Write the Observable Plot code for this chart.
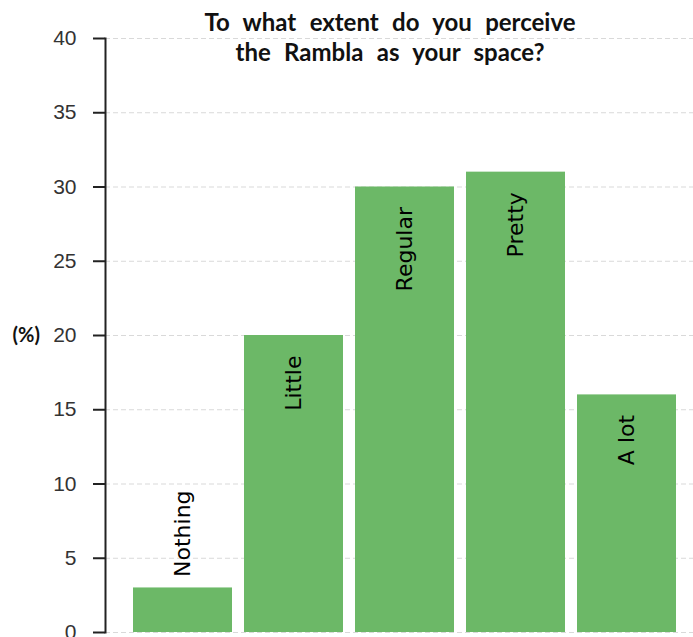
<!DOCTYPE html>
<html><head><meta charset="utf-8">
<script src="https://cdn.jsdelivr.net/npm/d3@7"></script>
<script src="https://cdn.jsdelivr.net/npm/@observablehq/plot@0.6"></script>
<style>
html,body{margin:0;padding:0;overflow:hidden;background:#fff;}
#wrap{position:relative;width:693px;}
#title{position:absolute;left:0;top:7px;width:780px;text-align:center;font-family:Lato,sans-serif;font-weight:bold;font-size:24px;line-height:30px;word-spacing:7.5px;color:#111;pointer-events:none;}
</style></head><body><div id="wrap"><div id="title"></div></div>
<script>
const categories = ["Nothing", "Little", "Regular", "Pretty", "A lot"];
const values = [3, 20, 30, 31, 16];
const yTicks = [0, 5, 10, 15, 20, 25, 30, 35, 40];
const titleLines = ["To what extent do you perceive", "the Rambla as your space?"];
const yLabel = "(%)";

const data = categories.map((c, i) => ({category: c, value: values[i]}));
document.getElementById("title").innerHTML = titleLines.join("<br>");

const plot = Plot.plot({
  width: 693, height: 672,
  marginLeft: 105, marginRight: 0, marginTop: 38, marginBottom: 40,
  style: {background: "white", overflow: "visible"},
  x: {domain: categories, range: [127, 682], paddingInner: 0.11, paddingOuter: 0.055, axis: null},
  y: {domain: [0, 40], axis: null},
  marks: [
    Plot.ruleY(yTicks, {stroke: "#d9d9d9", strokeDasharray: "5,3", strokeWidth: 1}),
    Plot.barY(data, {x: "category", y: "value", fill: "#6cb867"}),
    Plot.text(data.filter(d => d.value > 5), {x: "category", y: "value", text: "category", rotate: -90, textAnchor: "end", dy: 20, fontFamily: "DejaVu Sans", fontSize: 22, fill: "#000"}),
    Plot.text(data.filter(d => d.value <= 5), {x: "category", y: "value", text: "category", rotate: -90, textAnchor: "start", dy: -11, fontFamily: "DejaVu Sans", fontSize: 22, fill: "#000"}),
    Plot.axisY({ticks: yTicks, tickSize: 12, tickPadding: 17, fontSize: 21, fontFamily: "Liberation Sans", stroke: "#222", strokeWidth: 2, fill: "#333", label: null}),
    Plot.frame({anchor: "left", stroke: "#222", strokeWidth: 2}),
    Plot.text([yLabel], {frameAnchor: "left", dx: -93, textAnchor: "start", fontWeight: "bold", fontFamily: "Lato", fontSize: 20, fill: "#111"})
  ]
});
document.getElementById("wrap").appendChild(plot);
</script>
</body></html>
